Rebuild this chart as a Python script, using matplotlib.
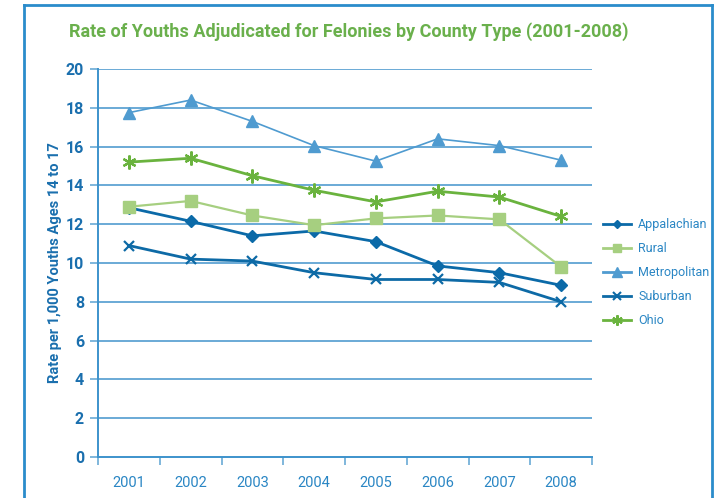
import numpy as np
import matplotlib.pyplot as plt
from matplotlib.lines import Line2D

years = ["2001", "2002", "2003", "2004", "2005", "2006", "2007", "2008"]
appalachian = [12.85, 12.15, 11.4, 11.65, 11.1, 9.85, 9.5, 8.85]
rural = [12.9, 13.2, 12.45, 11.95, 12.3, 12.45, 12.25, 9.8]
metropolitan = [17.75, 18.4, 17.3, 16.05, 15.25, 16.4, 16.05, 15.3]
suburban = [10.9, 10.2, 10.1, 9.5, 9.15, 9.15, 9.0, 8.0]
ohio = [15.2, 15.4, 14.5, 13.75, 13.15, 13.7, 13.4, 12.4]

FONT = ["Roboto", "DejaVu Sans"]
BLUE_TXT = "#1a6fae"
GRID = "#6aaad6"

series = [
    ("Appalachian", appalachian, "#0b6aa8", "D", 6, 2.0),
    ("Rural", rural, "#a6cf80", "s", 8, 1.6),
    ("Metropolitan", metropolitan, "#4f9bd0", "^", 9, 1.2),
    ("Suburban", suburban, "#0d6aa6", "x", 7, 2.0),
    ("Ohio", ohio, "#6ab33e", (6, 2, 0), 10, 2.0),
]

fig = plt.figure(figsize=(7.17, 4.98), dpi=100)
ax = fig.add_axes([98 / 717, 1 - 457 / 498, 494 / 717, 388 / 498])

x = np.arange(len(years))
for name, vals, color, marker, ms, lw in series:
    kw = dict(color=color, lw=lw, marker=marker, markersize=ms, label=name)
    if marker in ("x", (6, 2, 0)):
        kw["markeredgewidth"] = 1.6
    else:
        kw["markeredgecolor"] = color
    ax.plot(x, vals, zorder=3, **kw)

ax.set_xlim(-0.5, len(years) - 0.5)
ax.set_ylim(0, 20)
ax.set_yticks(np.arange(0, 21, 2))
for v in range(2, 21, 2):
    ax.axhline(v, color=GRID, lw=1.4, zorder=1)

ax.set_xticks(np.arange(-0.5, len(years), 1.0))
ax.set_xticklabels([])
ax.set_xticks(x, minor=True)
ax.set_xticklabels(years, minor=True)
ax.tick_params(axis="x", which="major", length=6, color=GRID, width=1.2)
ax.tick_params(axis="x", which="minor", length=0, pad=14,
               labelsize=10.5, labelcolor="#2a86c4")
ax.tick_params(axis="y", length=6, color=GRID, width=1.2, pad=4,
               labelsize=11.5, labelcolor=BLUE_TXT)
for lab in ax.get_yticklabels():
    lab.set_fontweight("bold")
    lab.set_family(FONT)
for lab in ax.get_xticklabels(minor=True):
    lab.set_family(FONT)

for s in ("top", "right"):
    ax.spines[s].set_visible(False)
ax.spines["left"].set_color("#3d93cc")
ax.spines["bottom"].set_color("#3d93cc")
ax.spines["left"].set_linewidth(1.4)
ax.spines["bottom"].set_linewidth(1.4)

ax.set_ylabel("Rate per 1,000 Youths Ages 14 to 17", color=BLUE_TXT,
              fontsize=10.5, fontweight="bold", family=FONT, labelpad=3)

fig.text(69 / 717, 1 - 32 / 498,
         "Rate of Youths Adjudicated for Felonies by County Type (2001-2008)",
         color="#6ab04c", fontsize=13, fontweight="bold", family=FONT,
         va="center", ha="left")

handles = []
for name, vals, color, marker, ms, lw in series:
    kw = dict(color=color, lw=2, marker=marker, markersize=ms * 0.75)
    if marker in ("x", (6, 2, 0)):
        kw["markeredgewidth"] = 1.5
    handles.append(Line2D([], [], **kw))
leg = fig.legend(handles, [s[0] for s in series], loc="upper left",
                 bbox_to_anchor=(592 / 717, 1 - 207 / 498), frameon=False,
                 handlelength=2.2, labelspacing=0.88, handletextpad=0.6,
                 prop={"family": FONT, "size": 9})
for t in leg.get_texts():
    t.set_color("#2a86c4")

# outer frame (open at bottom)
bc = "#2a8ccb"
fig.add_artist(Line2D([24 / 717, 24 / 717], [0, 1 - 5.5 / 498],
                      transform=fig.transFigure, color=bc, lw=2))
fig.add_artist(Line2D([24 / 717, 712 / 717], [1 - 5.5 / 498, 1 - 5.5 / 498],
                      transform=fig.transFigure, color=bc, lw=2))
fig.add_artist(Line2D([712 / 717, 712 / 717], [0, 1 - 5.5 / 498],
                      transform=fig.transFigure, color=bc, lw=2))

fig.savefig("out.png", dpi=100)
